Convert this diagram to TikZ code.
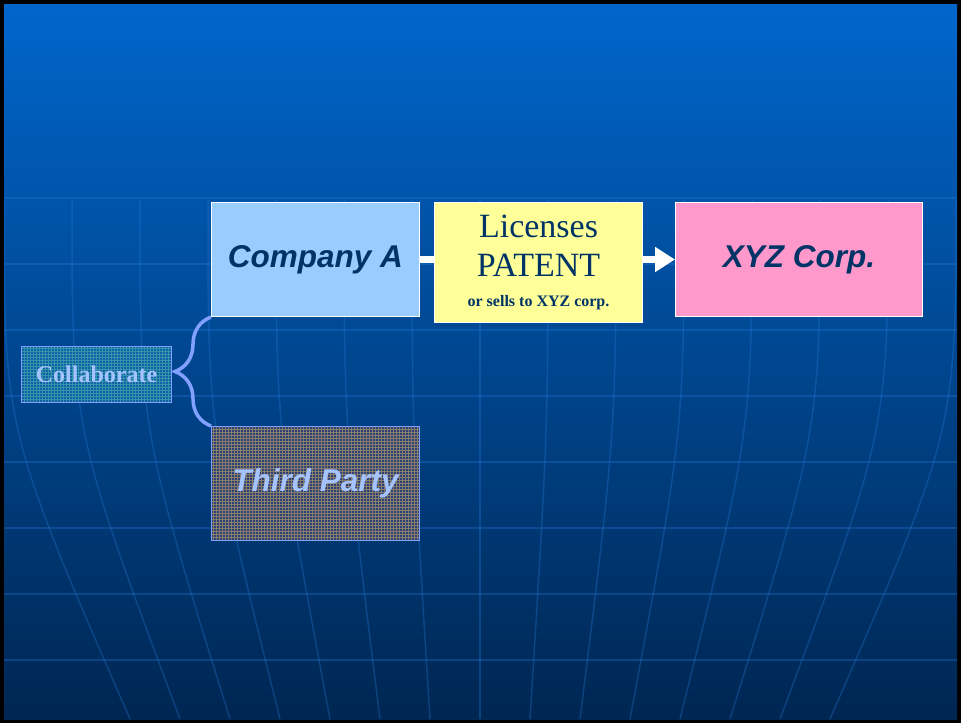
\documentclass[tikz,border=0pt]{standalone}
\usepackage{fontspec}
\setmainfont{Liberation Serif}
\setsansfont{Liberation Sans}
\usetikzlibrary{arrows.meta,patterns,decorations.pathreplacing}

\begin{document}
\begin{tikzpicture}[x=1pt,y=-1pt,
  box/.style={draw=white, line width=1pt, inner sep=0pt, anchor=north west, minimum width=208pt, minimum height=114pt},
  corp/.style={font=\sffamily\bfseries\itshape\fontsize{31.5}{36}\selectfont, text=navy},
  link/.style={white, line width=7pt},
  gridline/.style={draw=gridblue, line width=1.5pt, opacity=0.3}]
\definecolor{bgtop}{RGB}{0,102,204}
\definecolor{bgmid}{RGB}{0,78,160}
\definecolor{bgbot}{RGB}{0,38,82}
\definecolor{gridblue}{RGB}{40,125,220}
\definecolor{navy}{RGB}{0,51,102}
\definecolor{skyblue}{RGB}{153,204,255}
\definecolor{paleyellow}{RGB}{255,255,153}
\definecolor{rosepink}{RGB}{255,153,204}
\definecolor{bracecolor}{RGB}{130,160,255}
\definecolor{softtext}{RGB}{165,195,255}
\definecolor{collbase}{RGB}{20,95,165}
\definecolor{colldot}{RGB}{50,150,170}
\definecolor{tpbase}{RGB}{45,65,120}
\definecolor{tpdot}{RGB}{135,125,105}
% slide background
\fill[black] (0,0) rectangle (961,723);
\shade[top color=bgtop, middle color=bgmid, bottom color=bgbot] (4,4) rectangle (957,719);
\begin{scope}
\clip (4,4) rectangle (957,719);
\foreach \y in {198,264,...,660} \draw[gridline] (4,\y) -- (957,\y);
\foreach \i in {-7,...,7} \draw[gridline] (480+\i*68,200) .. controls (480+\i*68,430) .. (480+\i*50,719);
\end{scope}
% boxes
\node[box, fill=skyblue, corp] (ca) at (211,202) {Company A};
\node[box, fill=paleyellow, minimum height=120pt, align=center, text=navy, font=\fontsize{34}{39}\selectfont] (lic) at (434,202)
  {Licenses\\PATENT\\[-9pt]{\fontsize{16}{20}\selectfont\bfseries or sells to XYZ corp.}};
\node[box, fill=rosepink, minimum width=247pt, corp] (xyz) at (675,202) {XYZ Corp.};
\node[box, draw=bracecolor, preaction={fill=tpbase}, pattern=grid, pattern color=tpdot, corp, text=softtext] (tp) at (211,426) {Third Party};
\node[box, draw=bracecolor, preaction={fill=collbase}, pattern=grid, pattern color=colldot, minimum width=150pt, minimum height=56pt,
  text=softtext, font=\bfseries\fontsize{24}{28}\selectfont] (coll) at (21,346) {Collaborate};
% connectors
\draw[link] (ca.east) -- (ca.east -| lic.west);
\draw[link, -{Triangle[length=20pt,width=24pt]}] (lic.east |- xyz.west) -- (xyz.west);
\draw[bracecolor, line width=3.5pt, decorate, decoration={brace, amplitude=36pt}] (tp.north west) -- (ca.south west);
\end{tikzpicture}
\end{document}
